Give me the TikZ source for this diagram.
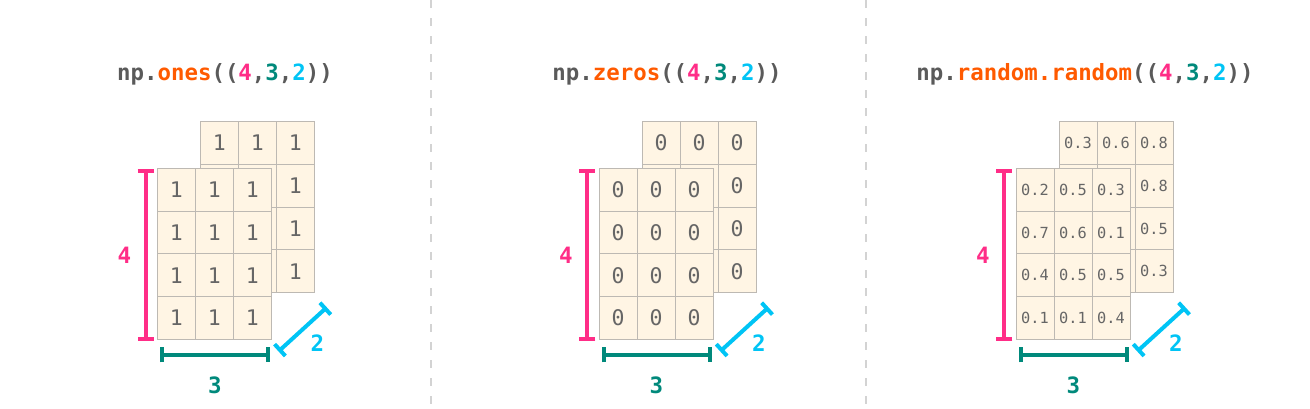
\documentclass[tikz,border=0pt]{standalone}
\usepackage{fontspec}
\usetikzlibrary{arrows.meta}
\newfontfamily\monofont{DejaVu Sans Mono}
\definecolor{pinkc}{HTML}{FF2D87}
\definecolor{tealc}{HTML}{00897B}
\definecolor{cyanc}{HTML}{00C4F5}
\definecolor{orangec}{HTML}{FF5A00}
\definecolor{titlegray}{HTML}{5A5A5A}
\definecolor{digitgray}{HTML}{666666}
\definecolor{cellfill}{HTML}{FFF5E4}
\definecolor{cellborder}{HTML}{BDB9B3}
\definecolor{divgray}{HTML}{D3D3D3}
\newcommand\cellbig{\monofont\fontsize{21.5}{24}\selectfont}
\newcommand\cellsmall{\monofont\fontsize{15.3}{18}\selectfont}
\newcommand\ttl[1]{\textcolor{orangec}{#1}}
\newcommand\dims{(\textcolor{titlegray}{(}\textcolor{pinkc}{4},\textcolor{tealc}{3},\textcolor{cyanc}{2}))}
\newcommand\drawpanel[5]{%
  \foreach \v [count=\i from 0] in {#4} {
    \pgfmathtruncatemacro\r{div(\i,3)}
    \pgfmathtruncatemacro\c{mod(\i,3)}
    \node[cell,font=#3] (#1b\i) at ({#2+43+19+38*\c},{121.7+21.375+42.75*\r}) {\v};
  }
  \foreach \v [count=\i from 0] in {#5} {
    \pgfmathtruncatemacro\r{div(\i,3)}
    \pgfmathtruncatemacro\c{mod(\i,3)}
    \node[cell,font=#3] (#1f\i) at ({#2+19+38*\c},{168.3+21.375+42.75*\r}) {\v};
  }
  \coordinate (#1pa) at ({#2-11.6},168.7);
  \coordinate (#1pb) at ({#2-11.6},340.7);
  \draw[dimline, pinkc, {Bar[width=16pt]}-{Bar[width=16pt]}] (#1pa) -- (#1pb);
  \coordinate (#1ga) at ({#2+2.7},354.8);
  \coordinate (#1gb) at ({#2+112.7},354.8);
  \draw[dimline, tealc, {Bar[width=15pt]}-{Bar[width=15pt]}] (#1ga) -- (#1gb);
  \coordinate (#1ca) at ({#2+121.2},351.4);
  \coordinate (#1cb) at ({#2+169.5},307.3);
  \draw[dimline, cyanc, {Bar[width=16pt]}-{Bar[width=16pt]}] (#1ca) -- (#1cb);
  \node[dimlabel, text=pinkc] (#1l4) at ({#2-33},255) {4};
  \node[dimlabel, text=tealc] (#1l3) at ({#2+57.5},385) {3};
  \node[dimlabel, text=cyanc] (#1l2) at ({#2+160},343.3) {2};
}
\begin{document}
\begin{tikzpicture}[x=1pt,y=-1pt,
  cell/.style={draw=cellborder, fill=cellfill, line width=1pt,
    minimum width=38pt, minimum height=42.75pt, inner sep=0pt, text=digitgray},
  dimline/.style={line width=4pt},
  dimlabel/.style={font=\monofont\bfseries\fontsize{22.5}{26}\selectfont, inner sep=0pt},
  title/.style={font=\monofont\bfseries\fontsize{22.4}{26}\selectfont, text=titlegray, anchor=base, inner sep=0pt},
  divider/.style={draw=divgray, line width=2pt, dash pattern=on 8pt off 10pt}]
\useasboundingbox (0,0) rectangle (1310,408);
\coordinate (d1a) at (430.7,0); \coordinate (d1b) at (430.7,408);
\coordinate (d2a) at (865.7,0); \coordinate (d2b) at (865.7,408);
\draw[divider] (d1a) -- (d1b);
\draw[divider] (d2a) -- (d2b);
\node[title] (t1) at (225,80) {np.\ttl{ones}\dims};
\node[title] (t2) at (667,80) {np.\ttl{zeros}\dims};
\node[title] (t3) at (1085,80) {np.\ttl{random.random}\dims};
\drawpanel{A}{157.3}{\cellbig}{1,1,1,,,1,,,1,,,1}{1,1,1,1,1,1,1,1,1,1,1,1}
\drawpanel{B}{599}{\cellbig}{0,0,0,,,0,,,0,,,0}{0,0,0,0,0,0,0,0,0,0,0,0}
\drawpanel{C}{1016}{\cellsmall}{0.3,0.6,0.8,,,0.8,,,0.5,,,0.3}{0.2,0.5,0.3,0.7,0.6,0.1,0.4,0.5,0.5,0.1,0.1,0.4}
\end{tikzpicture}
\end{document}
